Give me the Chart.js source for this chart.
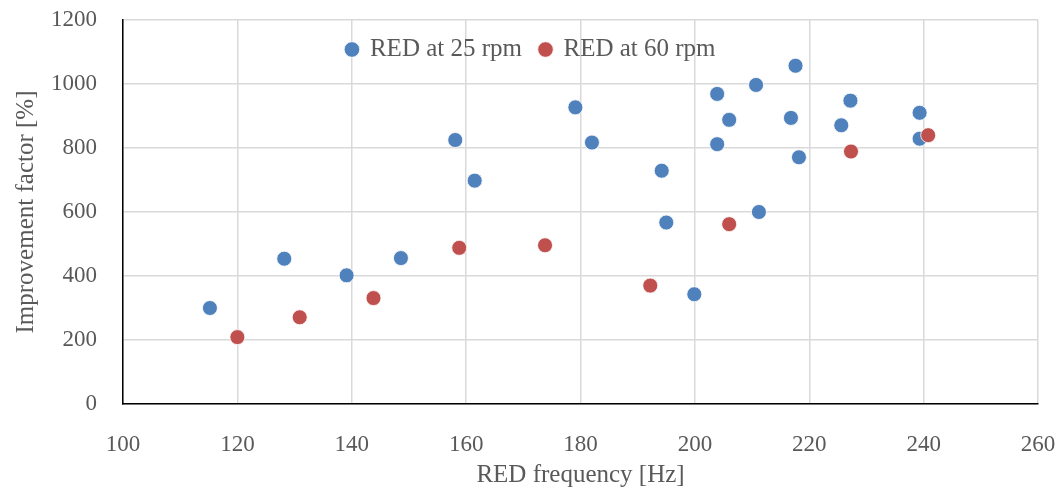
<!DOCTYPE html>
<html>
<head>
<meta charset="utf-8">
<script src="https://cdn.jsdelivr.net/npm/chart.js@4"></script>
<style>
  html, body { margin: 0; padding: 0; background: #fff; }
  #wrap { width: 1061px; height: 490px; }
</style>
</head>
<body>
<div id="wrap"><canvas id="redChart"></canvas></div>
<script>
// RED at 25 rpm
const freq25 = [115.2, 128.2, 139.1, 148.6, 158.1, 161.5, 179.1, 182.0, 194.2, 195.0, 199.9, 203.9,
    203.9, 206.0, 210.7, 211.2, 216.8, 217.6, 218.2, 225.6, 227.2, 239.3, 239.3];
const factor25 = [300, 454, 402, 456, 825, 698, 927, 817, 729, 567, 343, 969,
    812, 888, 997, 600, 894, 1057, 771, 871, 948, 910, 829];

// RED at 60 rpm
const freq60 = [120.0, 130.9, 143.8, 158.8, 173.8, 192.2, 206.0, 227.3, 240.8];
const factor60 = [209, 271, 331, 488, 496, 370, 562, 789, 840];

const seriesLabels = ['RED at 25 rpm', 'RED at 60 rpm'];
const xTicks = [100, 120, 140, 160, 180, 200, 220, 240, 260];
const yTicks = [0, 200, 400, 600, 800, 1000, 1200];

const textColor = '#595959';
const gridColor = '#d9d9d9';
const fontFamily = '"Liberation Serif", "DejaVu Serif", serif';

Chart.defaults.font.family = fontFamily;
Chart.defaults.color = textColor;

function toPoints(xs, ys) {
    return xs.map((x, i) => ({ x: x, y: ys[i] }));
}

// keep the legend inside the plot area, under the top gridline
const insideLegend = {
    id: 'insideLegend',
    beforeLayout(chart) {
        const lg = chart.legend;
        if (!lg || lg._wrapped) return;
        const fit = lg.fit;
        lg.fit = function () {
            fit.call(this);
            this._realHeight = this.height;
            this.height = 0;
        };
        lg._wrapped = true;
    },
    afterLayout(chart) {
        const lg = chart.legend;
        const area = chart.chartArea;
        lg.top = area.top - 1;
        lg.bottom = lg.top + lg._realHeight;
        lg.left = area.left;
        lg.right = area.right - 99;
    }
};

const ctx = document.getElementById('redChart').getContext('2d');
new Chart(ctx, {
    type: 'scatter',
    data: {
        datasets: [
            {
                label: seriesLabels[0],
                data: toPoints(freq25, factor25),
                backgroundColor: '#4f81bd',
                borderColor: 'rgba(255,255,255,0.8)',
                borderWidth: 1,
                pointRadius: 7.5,
                pointHoverRadius: 7.5,
                order: 1
            },
            {
                label: seriesLabels[1],
                data: toPoints(freq60, factor60),
                backgroundColor: '#c0504d',
                borderColor: 'rgba(255,255,255,0.8)',
                borderWidth: 1,
                pointRadius: 7.5,
                pointHoverRadius: 7.5,
                order: 0
            }
        ]
    },
    plugins: [insideLegend],
    options: {
        responsive: true,
        maintainAspectRatio: false,
        animation: false,
        layout: {
            padding: { left: 0, right: 23, top: 20, bottom: 0 }
        },
        plugins: {
            legend: {
                position: 'top',
                labels: {
                    usePointStyle: true,
                    pointStyle: 'circle',
                    boxWidth: 11,
                    boxHeight: 11,
                    padding: 18,
                    color: textColor,
                    font: { size: 25 },
                    sort: (a, b) => a.datasetIndex - b.datasetIndex
                }
            },
            tooltip: { enabled: false }
        },
        scales: {
            x: {
                type: 'linear',
                min: xTicks[0],
                max: xTicks[xTicks.length - 1],
                afterBuildTicks: axis => { axis.ticks = xTicks.map(v => ({ value: v })); },
                afterFit: axis => { axis.height = 86; },
                grid: { color: gridColor, lineWidth: 1.5, drawTicks: true, tickLength: 27, tickColor: 'rgba(0,0,0,0)' },
                border: { color: '#000', width: 1.5 },
                ticks: { padding: 0, font: { size: 23 }, color: textColor, callback: v => String(v) },
                title: {
                    display: true,
                    text: 'RED frequency [Hz]',
                    color: textColor,
                    font: { size: 25 },
                    padding: { top: 0, bottom: 0 }
                }
            },
            y: {
                type: 'linear',
                min: yTicks[0],
                max: yTicks[yTicks.length - 1],
                afterBuildTicks: axis => { axis.ticks = yTicks.map(v => ({ value: v })); },
                afterFit: axis => { axis.width = 123; },
                grid: { color: gridColor, lineWidth: 1.5, drawTicks: true, tickLength: 26, tickColor: 'rgba(0,0,0,0)' },
                border: { color: '#000', width: 1.5 },
                ticks: { padding: 0, font: { size: 23 }, color: textColor, callback: v => String(v) },
                title: {
                    display: true,
                    text: 'Improvement factor [%]',
                    color: textColor,
                    font: { size: 25 },
                    padding: { top: 11, bottom: 0 }
                }
            }
        }
    }
});
</script>
</body>
</html>
